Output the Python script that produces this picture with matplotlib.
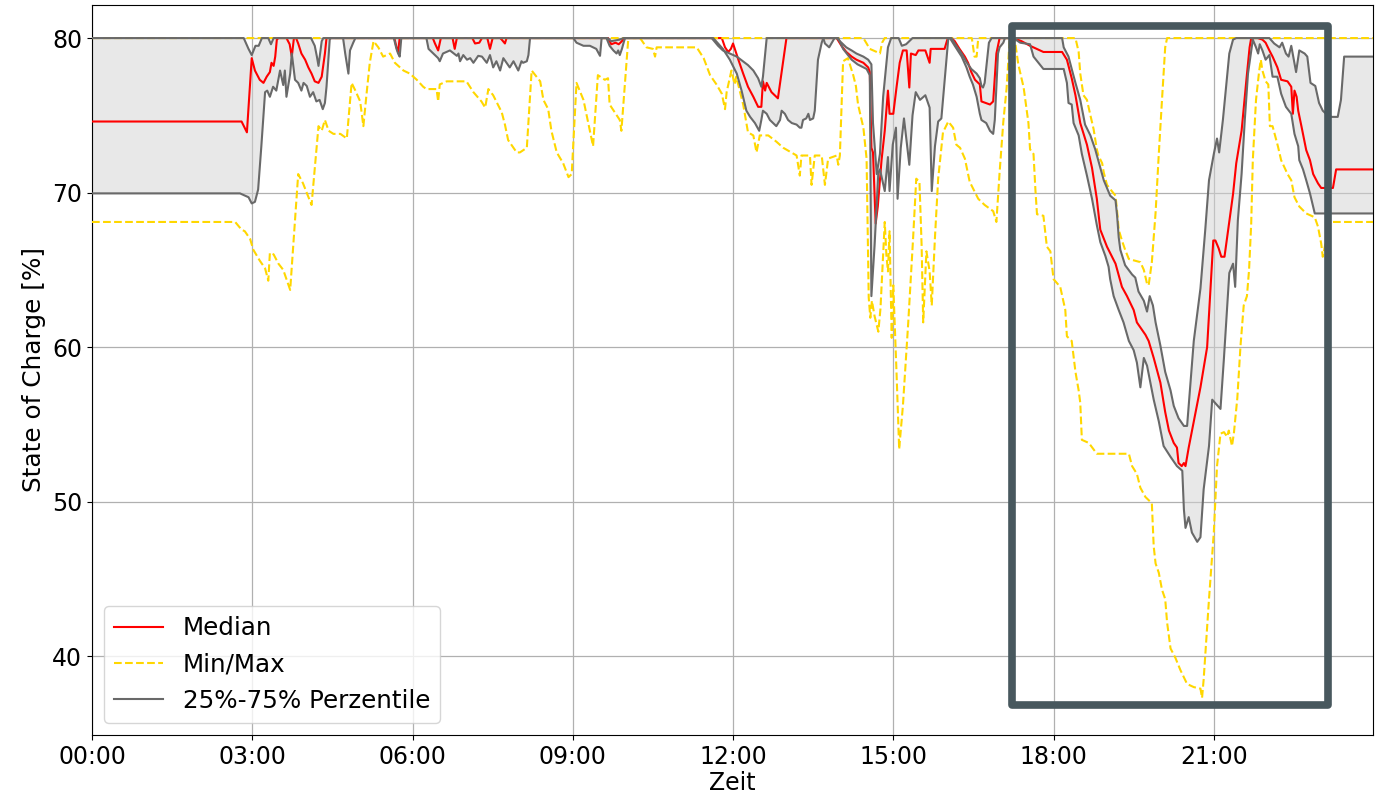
import matplotlib
matplotlib.use("Agg")
import matplotlib.pyplot as plt
from matplotlib.patches import Rectangle
from matplotlib.lines import Line2D
from matplotlib.ticker import FuncFormatter

# ---------------- data: (hour of day, SOC %) ----------------
median_pts = [
    (0.0, 74.6), (2.80, 74.6), (2.90, 73.9), (2.99, 78.7), (3.05, 77.9), (3.14, 77.3), (3.21, 77.1),
    (3.27, 77.5), (3.33, 77.8), (3.36, 78.4), (3.40, 78.2), (3.43, 78.8), (3.46, 79.9), (3.49, 80.0),
    (3.64, 80.0), (3.70, 79.6), (3.74, 78.8), (3.78, 80.0), (3.82, 80.0), (3.86, 79.65), (3.92, 79.0),
    (3.99, 78.6), (4.05, 78.1), (4.11, 77.7), (4.17, 77.2), (4.24, 77.1), (4.30, 77.5), (4.36, 79.0),
    (4.39, 80.0), (5.66, 80.0), (5.70, 79.4), (5.73, 79.1), (5.76, 80.0), (6.38, 80.0), (6.42, 79.65),
    (6.48, 79.2), (6.53, 80.0), (6.75, 80.0), (6.79, 79.3), (6.83, 80.0), (7.12, 80.0), (7.17, 79.65),
    (7.25, 79.7), (7.30, 80.0), (7.40, 80.0), (7.45, 79.3), (7.50, 80.0), (7.64, 80.0), (7.67, 79.9),
    (7.73, 79.65), (7.76, 80.0), (9.66, 80.0), (9.72, 79.6), (9.80, 79.7), (9.86, 79.6), (9.92, 79.8),
    (9.96, 80.0), (11.79, 80.0), (11.85, 79.4), (11.91, 79.1), (11.96, 79.3), (12.00, 79.65),
    (12.10, 78.6), (12.19, 77.7), (12.28, 76.85), (12.38, 76.2), (12.47, 75.55), (12.53, 75.55),
    (12.56, 77.2), (12.60, 76.6), (12.63, 77.1), (12.72, 76.5), (12.84, 76.1), (13.00, 80.0),
    (13.94, 80.0), (14.03, 79.5), (14.12, 79.1), (14.22, 78.8), (14.31, 78.6), (14.44, 78.4),
    (14.53, 78.1), (14.56, 77.8), (14.59, 72.9), (14.62, 72.6), (14.67, 68.0), (14.71, 69.1),
    (14.78, 72.1), (14.84, 74.0), (14.90, 76.6), (14.93, 75.1), (15.00, 75.1), (15.06, 76.8),
    (15.12, 78.4), (15.18, 79.2), (15.25, 79.2), (15.30, 76.8), (15.33, 79.0), (15.42, 78.9),
    (15.47, 79.2), (15.60, 79.2), (15.68, 78.4), (15.70, 79.3), (15.96, 79.3), (16.02, 80.0),
    (16.09, 80.0), (16.15, 79.8), (16.24, 79.3), (16.34, 78.8), (16.40, 78.4), (16.46, 77.8),
    (16.53, 77.3), (16.62, 77.0), (16.65, 75.9), (16.81, 75.7), (16.87, 75.9), (16.93, 79.0),
    (16.99, 80.0), (17.25, 80.0), (17.40, 79.8), (17.56, 79.5), (17.81, 79.1), (18.16, 79.1),
    (18.25, 78.6), (18.34, 77.4), (18.41, 76.3), (18.50, 74.5), (18.625, 73.1), (18.72, 71.6),
    (18.81, 69.6), (18.875, 67.6), (19.00, 66.5), (19.16, 65.4), (19.28, 63.9), (19.375, 63.3),
    (19.50, 62.4), (19.56, 61.6), (19.72, 60.8), (19.78, 60.4), (19.875, 59.3), (20.00, 57.7),
    (20.09, 55.8), (20.16, 54.6), (20.25, 53.8), (20.31, 53.5), (20.34, 52.5), (20.40, 52.3),
    (20.44, 52.5), (20.47, 52.3), (20.53, 53.5), (20.625, 55.2), (20.75, 57.4), (20.875, 60.0),
    (20.99, 66.9), (21.03, 66.9), (21.09, 66.4), (21.14, 65.85), (21.20, 65.85), (21.26, 67.35),
    (21.36, 69.9), (21.42, 71.9), (21.52, 74.0), (21.61, 77.3), (21.67, 79.4), (21.70, 80.0),
    (21.82, 80.0), (21.91, 79.9), (21.97, 79.7), (22.04, 79.2), (22.10, 78.8), (22.19, 78.1),
    (22.26, 77.3), (22.38, 77.2), (22.45, 76.85), (22.48, 75.1), (22.51, 76.6), (22.55, 76.2),
    (22.58, 75.3), (22.64, 74.3), (22.73, 72.75), (22.80, 72.1), (22.86, 71.2), (22.95, 70.6),
    (23.01, 70.3), (23.23, 70.3), (23.29, 71.5), (23.98, 71.5),
]

q75_pts = [
    (0.0, 80.0), (2.84, 80.0), (2.93, 79.3), (2.99, 78.9), (3.06, 79.5), (3.12, 79.5), (3.18, 80.0),
    (3.30, 80.0), (3.35, 79.6), (3.40, 80.0), (4.10, 80.0), (4.17, 79.5), (4.21, 78.8), (4.24, 78.2),
    (4.30, 79.8), (4.33, 80.0), (9.65, 80.0), (9.72, 79.8), (9.88, 79.9), (9.95, 80.0), (11.60, 80.0),
    (11.72, 79.5), (11.81, 79.2), (11.94, 79.0), (12.07, 78.8), (12.28, 78.25), (12.38, 77.9),
    (12.47, 77.4), (12.53, 76.85), (12.56, 77.5), (12.63, 80.0), (13.69, 80.0), (13.72, 79.65),
    (13.80, 79.4), (13.85, 79.7), (13.90, 80.0), (13.94, 80.0), (14.03, 79.7), (14.12, 79.4),
    (14.22, 79.2), (14.31, 79.0), (14.44, 78.8), (14.53, 78.6), (14.59, 78.3), (14.62, 74.5),
    (14.69, 71.2), (14.75, 72.5), (14.81, 76.2), (14.90, 79.4), (14.96, 80.0), (15.10, 80.0),
    (15.16, 79.5), (15.24, 79.6), (15.30, 79.8), (15.36, 80.0), (16.09, 80.0), (16.15, 79.65),
    (16.28, 79.0), (16.37, 78.45), (16.46, 78.0), (16.56, 77.7), (16.62, 77.4), (16.65, 76.9),
    (16.68, 76.8), (16.71, 77.1), (16.75, 78.4), (16.79, 79.7), (16.84, 80.0), (18.16, 80.0),
    (18.19, 79.4), (18.28, 78.8), (18.34, 78.0), (18.41, 77.1), (18.50, 76.0), (18.59, 74.4),
    (18.69, 73.7), (18.78, 72.8), (18.875, 71.6), (18.94, 70.8), (19.06, 69.8), (19.16, 69.5),
    (19.19, 68.5), (19.22, 67.1), (19.25, 66.3), (19.34, 65.3), (19.47, 64.7), (19.53, 64.5),
    (19.59, 63.6), (19.69, 63.0), (19.75, 62.3), (19.80, 63.3), (19.86, 62.7), (19.91, 61.6),
    (20.00, 60.1), (20.09, 58.4), (20.19, 57.2), (20.25, 56.2), (20.34, 55.4), (20.44, 54.9),
    (20.50, 54.9), (20.56, 57.5), (20.625, 60.4), (20.75, 63.8), (20.84, 67.6), (20.91, 70.8),
    (21.00, 72.5), (21.06, 73.5), (21.10, 72.6), (21.17, 74.7), (21.23, 76.85), (21.29, 79.0),
    (21.36, 79.9), (21.42, 80.0), (22.04, 80.0), (22.13, 79.65), (22.23, 79.4), (22.28, 79.7),
    (22.35, 79.0), (22.40, 78.8), (22.45, 79.5), (22.54, 77.8), (22.60, 79.2), (22.70, 79.0),
    (22.75, 78.8), (22.81, 77.1), (22.90, 76.9), (22.97, 75.8), (23.04, 75.3), (23.10, 75.1),
    (23.20, 74.9), (23.32, 74.9), (23.38, 76.0), (23.44, 78.8), (23.98, 78.8),
]

q25_pts = [
    (0.0, 69.95), (2.77, 69.95), (2.93, 69.7), (2.99, 69.3), (3.05, 69.4), (3.11, 70.2), (3.17, 73.0),
    (3.24, 76.5), (3.28, 76.6), (3.33, 76.2), (3.39, 76.85), (3.45, 76.6), (3.52, 77.9), (3.58, 76.96),
    (3.61, 77.9), (3.64, 76.2), (3.71, 77.7), (3.74, 79.0), (3.80, 77.3), (3.86, 77.1), (3.92, 76.6),
    (3.96, 77.1), (4.02, 76.9), (4.08, 76.2), (4.14, 76.5), (4.20, 75.9), (4.26, 76.0), (4.32, 75.4),
    (4.36, 75.8), (4.39, 76.85), (4.45, 79.9), (4.47, 80.0), (4.70, 80.0), (4.74, 79.0), (4.80, 77.7),
    (4.83, 79.2), (4.89, 79.7), (4.93, 80.0), (5.65, 80.0), (5.70, 79.3), (5.73, 79.0), (5.76, 78.8),
    (5.79, 80.0), (6.26, 80.0), (6.30, 79.3), (6.39, 79.0), (6.48, 78.7), (6.51, 78.5), (6.57, 79.0),
    (6.70, 79.2), (6.83, 78.85), (6.86, 79.0), (6.89, 78.5), (6.95, 78.9), (7.02, 78.6), (7.08, 78.7),
    (7.14, 78.4), (7.23, 78.85), (7.30, 78.8), (7.39, 78.4), (7.45, 78.9), (7.51, 78.1), (7.57, 78.5),
    (7.64, 77.9), (7.70, 78.7), (7.76, 78.4), (7.82, 78.1), (7.89, 78.5), (7.98, 77.9), (8.04, 78.5),
    (8.07, 78.4), (8.14, 78.5), (8.17, 78.9), (8.20, 80.0), (9.01, 80.0), (9.07, 79.7), (9.20, 79.5),
    (9.32, 79.5), (9.44, 79.3), (9.51, 78.85), (9.54, 80.0), (9.63, 80.0), (9.69, 79.5), (9.76, 79.2),
    (9.82, 79.0), (9.85, 79.2), (9.88, 78.9), (9.92, 79.3), (9.96, 79.8), (9.98, 80.0), (11.63, 80.0),
    (11.81, 79.3), (11.94, 78.6), (12.07, 77.7), (12.16, 76.6), (12.25, 75.3), (12.32, 74.9),
    (12.41, 74.5), (12.49, 74.0), (12.53, 74.7), (12.56, 75.3), (12.63, 75.1), (12.69, 74.7),
    (12.75, 74.5), (12.81, 74.3), (12.88, 74.7), (12.91, 75.3), (12.97, 75.1), (13.03, 74.7),
    (13.10, 74.5), (13.19, 74.4), (13.25, 74.2), (13.28, 74.2), (13.31, 74.7), (13.37, 74.8),
    (13.41, 75.1), (13.44, 74.7), (13.50, 74.8), (13.53, 75.3), (13.59, 78.6), (13.66, 79.7),
    (13.69, 80.0), (13.97, 80.0), (14.06, 79.3), (14.22, 78.6), (14.33, 78.3), (14.50, 78.0),
    (14.56, 77.6), (14.59, 63.3), (14.62, 65.0), (14.65, 66.6), (14.72, 71.3), (14.75, 71.5),
    (14.84, 70.1), (14.90, 72.3), (14.93, 70.1), (14.99, 73.1), (15.05, 74.2), (15.08, 69.6),
    (15.14, 72.9), (15.20, 74.8), (15.30, 71.8), (15.36, 75.0), (15.42, 76.5), (15.50, 76.0),
    (15.60, 76.3), (15.68, 75.5), (15.72, 70.1), (15.78, 73.0), (15.84, 74.6), (15.90, 74.8),
    (15.93, 76.0), (16.03, 80.0), (16.06, 80.0), (16.15, 79.5), (16.28, 78.8), (16.37, 78.1),
    (16.43, 77.5), (16.49, 77.0), (16.56, 76.2), (16.62, 75.1), (16.65, 74.7), (16.74, 74.5),
    (16.81, 74.0), (16.87, 73.8), (16.90, 74.7), (16.96, 79.0), (16.99, 79.4), (17.06, 79.7),
    (17.09, 80.0), (17.25, 80.0), (17.375, 79.7), (17.56, 79.6), (17.625, 78.8), (17.81, 78.0),
    (18.19, 78.0), (18.25, 77.1), (18.28, 75.8), (18.34, 75.7), (18.375, 74.5), (18.47, 73.7),
    (18.53, 72.5), (18.625, 71.1), (18.72, 69.6), (18.81, 67.9), (18.875, 66.8), (18.97, 65.9),
    (19.03, 65.2), (19.06, 64.4), (19.125, 63.3), (19.22, 62.4), (19.31, 61.6), (19.41, 60.4),
    (19.50, 59.8), (19.56, 59.0), (19.625, 57.4), (19.69, 59.3), (19.75, 58.8), (19.875, 56.6),
    (19.97, 55.2), (20.06, 53.6), (20.19, 52.9), (20.31, 52.3), (20.41, 52.0), (20.44, 49.5),
    (20.47, 48.3), (20.53, 49.0), (20.59, 48.0), (20.69, 47.4), (20.75, 47.7), (20.81, 50.8),
    (20.91, 53.6), (20.97, 56.6), (21.125, 56.0), (21.19, 59.3), (21.29, 64.8), (21.36, 65.4),
    (21.40, 63.9), (21.45, 68.2), (21.52, 71.2), (21.58, 74.7), (21.64, 77.7), (21.73, 79.9),
    (21.79, 79.4), (21.83, 79.0), (21.86, 79.6), (21.91, 79.2), (21.97, 78.6), (22.04, 78.9),
    (22.10, 77.5), (22.19, 77.5), (22.26, 76.4), (22.35, 75.55), (22.45, 75.1), (22.51, 73.8),
    (22.58, 73.0), (22.60, 72.1), (22.67, 71.5), (22.73, 70.8), (22.80, 69.95), (22.86, 69.1),
    (22.89, 68.65), (23.98, 68.65),
]

min_pts = [
    (0.0, 68.1), (2.68, 68.1), (2.80, 67.6), (2.86, 67.5), (2.96, 67.0), (3.02, 66.3), (3.14, 65.6),
    (3.24, 65.1), (3.30, 64.3), (3.33, 66.1), (3.40, 66.0), (3.49, 65.4), (3.58, 65.0), (3.71, 63.7),
    (3.80, 68.2), (3.86, 71.2), (3.95, 70.6), (4.11, 69.2), (4.24, 74.3), (4.30, 74.0), (4.36, 74.7),
    (4.43, 74.0), (4.52, 73.8), (4.65, 73.8), (4.77, 73.5), (4.86, 77.1), (4.93, 76.6), (5.02, 75.9),
    (5.08, 74.3), (5.14, 76.4), (5.20, 78.4), (5.27, 79.8), (5.36, 79.4), (5.45, 78.8), (5.58, 79.0),
    (5.67, 78.4), (5.83, 77.9), (5.95, 77.7), (6.08, 77.3), (6.20, 76.85), (6.26, 76.7), (6.45, 76.7),
    (6.48, 75.9), (6.51, 77.0), (6.64, 77.2), (7.01, 77.2), (7.14, 76.5), (7.29, 75.9), (7.36, 75.5),
    (7.42, 76.7), (7.51, 76.3), (7.67, 75.2), (7.73, 74.4), (7.79, 73.4), (7.95, 72.6), (8.01, 72.6),
    (8.14, 72.9), (8.23, 77.9), (8.39, 77.2), (8.45, 76.0), (8.54, 75.4), (8.60, 74.0), (8.70, 72.6),
    (8.82, 71.9), (8.92, 71.0), (8.98, 71.2), (9.07, 77.1), (9.20, 76.0), (9.29, 74.5), (9.38, 73.0),
    (9.47, 77.6), (9.60, 77.3), (9.66, 77.4), (9.69, 75.7), (9.88, 74.7), (9.91, 74.0), (10.04, 80.0),
    (10.26, 80.0), (10.38, 79.4), (10.50, 79.3), (10.54, 78.8), (10.57, 79.4), (11.32, 79.4),
    (11.45, 78.7), (11.57, 77.6), (11.69, 77.0), (11.79, 76.4), (11.85, 75.4), (11.88, 76.5),
    (11.97, 77.9), (12.03, 77.0), (12.06, 77.5), (12.19, 75.7), (12.28, 73.9), (12.38, 73.7),
    (12.44, 72.6), (12.50, 73.7), (12.66, 73.7), (12.81, 73.3), (12.94, 72.9), (13.19, 72.4),
    (13.25, 71.1), (13.28, 72.4), (13.44, 72.4), (13.47, 70.5), (13.53, 72.4), (13.66, 72.4),
    (13.72, 70.5), (13.78, 72.2), (13.94, 72.4), (13.97, 71.8), (14.00, 72.4), (14.06, 78.5),
    (14.15, 78.7), (14.25, 77.6), (14.30, 76.9), (14.34, 75.7), (14.44, 74.2), (14.50, 72.2),
    (14.54, 63.2), (14.57, 61.9), (14.60, 63.0), (14.65, 62.0), (14.72, 61.0), (14.76, 62.5),
    (14.81, 66.0), (14.84, 68.1), (14.87, 66.0), (14.90, 64.9), (14.93, 67.5), (14.97, 60.6),
    (15.00, 64.0), (15.06, 58.4), (15.11, 53.4), (15.18, 56.2), (15.28, 61.6), (15.37, 67.0),
    (15.43, 70.9), (15.49, 70.7), (15.53, 66.6), (15.56, 61.6), (15.62, 66.2), (15.68, 64.9),
    (15.72, 62.7), (15.78, 67.1), (15.84, 70.9), (15.93, 73.9), (16.03, 74.6), (16.12, 74.2),
    (16.18, 73.1), (16.25, 72.9), (16.34, 72.2), (16.43, 70.7), (16.59, 69.6), (16.71, 69.2),
    (16.87, 68.8), (16.93, 68.1), (16.99, 71.3), (17.06, 74.6), (17.12, 76.7), (17.18, 80.0),
    (17.27, 80.0), (17.34, 78.3), (17.44, 76.8), (17.53, 74.5), (17.56, 72.8), (17.625, 72.5),
    (17.66, 70.2), (17.69, 68.6), (17.81, 68.5), (17.875, 66.5), (17.94, 66.2), (18.00, 64.4),
    (18.125, 63.9), (18.22, 62.4), (18.25, 60.7), (18.34, 60.4), (18.41, 58.4), (18.47, 57.2),
    (18.50, 56.4), (18.53, 54.0), (18.66, 53.8), (18.81, 53.1), (19.06, 53.1), (19.41, 53.1),
    (19.47, 52.3), (19.56, 51.8), (19.625, 50.9), (19.72, 50.3), (19.84, 49.9), (19.875, 47.1),
    (19.91, 46.0), (19.97, 45.4), (20.03, 44.3), (20.09, 43.7), (20.125, 42.2), (20.19, 40.5),
    (20.28, 39.9), (20.375, 39.1), (20.50, 38.2), (20.625, 38.0), (20.75, 37.9), (20.78, 37.3),
    (20.81, 38.5), (20.91, 43.7), (21.00, 48.0), (21.06, 52.3), (21.125, 54.4), (21.19, 54.5),
    (21.25, 54.2), (21.28, 54.6), (21.34, 53.6), (21.375, 54.4), (21.44, 56.7), (21.50, 60.1),
    (21.56, 62.7), (21.62, 63.3), (21.66, 65.0), (21.70, 68.0), (21.73, 72.1), (21.79, 76.0),
    (21.85, 77.9), (21.88, 78.6), (21.91, 77.9), (21.97, 77.2), (22.02, 77.0), (22.05, 74.3),
    (22.10, 74.3), (22.20, 73.0), (22.26, 72.1), (22.38, 71.2), (22.45, 70.8), (22.51, 69.7),
    (22.60, 69.1), (22.73, 68.65), (22.89, 68.4), (22.95, 67.8), (23.01, 66.7), (23.04, 65.85),
    (23.17, 68.1), (23.98, 68.1),
]

max_pts = [
    (0.0, 80.0), (14.44, 80.0), (14.56, 79.3), (14.69, 79.1), (14.75, 79.0), (14.79, 79.7),
    (14.84, 80.0), (16.47, 80.0), (16.52, 78.8), (16.56, 78.8), (16.59, 80.0), (18.41, 80.0),
    (18.47, 79.1), (18.50, 77.7), (18.56, 76.3), (18.625, 76.0), (18.69, 75.0), (18.75, 74.1),
    (18.81, 72.8), (18.84, 72.4), (18.91, 71.9), (18.94, 71.3), (19.00, 70.5), (19.09, 70.1),
    (19.16, 69.8), (19.19, 68.8), (19.22, 67.6), (19.28, 66.9), (19.34, 66.3), (19.41, 65.7),
    (19.625, 65.5), (19.69, 65.0), (19.75, 64.1), (19.78, 64.0), (19.84, 65.5), (19.91, 68.7),
    (19.97, 72.5), (20.03, 76.0), (20.09, 79.4), (20.125, 80.0), (23.98, 80.0),
]

# highlight box (hours, SOC %)
box_t = (17.22, 23.13)
box_soc = (36.83, 80.78)

x_ticks = [0, 3, 6, 9, 12, 15, 18, 21]
y_ticks = [40, 50, 60, 70, 80]


def split(pts):
    return [p[0] for p in pts], [p[1] for p in pts]


t_med, v_med = split(median_pts)
t_q75, v_q75 = split(q75_pts)
t_q25, v_q25 = split(q25_pts)
t_min, v_min = split(min_pts)
t_max, v_max = split(max_pts)

FS = 17
fig = plt.figure(figsize=(13.76, 7.95), dpi=100)
ax = fig.add_axes([92 / 1376, 1 - 735 / 795, (1373 - 92) / 1376, (735 - 5) / 795])

# shaded inter-quartile band
ax.fill(t_q75 + t_q25[::-1], v_q75 + v_q25[::-1], color="lightgray", alpha=0.5,
        linewidth=0, zorder=1)

ax.plot(t_med, v_med, color="red", lw=1.5, zorder=3)
ax.plot(t_min, v_min, color="gold", lw=1.5, ls="--", zorder=4)
ax.plot(t_max, v_max, color="gold", lw=1.5, ls="--", zorder=4)
ax.plot(t_q25, v_q25, color="dimgray", lw=1.5, zorder=5)
ax.plot(t_q75, v_q75, color="dimgray", lw=1.5, zorder=5)

rect = Rectangle((box_t[0], box_soc[0]), box_t[1] - box_t[0], box_soc[1] - box_soc[0],
                 fill=False, edgecolor="#48585e", lw=5.5, joinstyle="round",
                 zorder=10, clip_on=False)
ax.add_patch(rect)

ax.set_xlim(0, 23.98)
ax.set_ylim(34.9, 82.14)
ax.set_xticks(x_ticks)
ax.xaxis.set_major_formatter(FuncFormatter(lambda x, p: f"{int(x):02d}:00"))
ax.set_yticks(y_ticks)
ax.grid(True, color="#b0b0b0", lw=0.9)
ax.set_axisbelow(True)
ax.tick_params(labelsize=FS)
ax.set_xlabel("Zeit", fontsize=FS, labelpad=2)
ax.set_ylabel("State of Charge [%]", fontsize=17.8)

handles = [
    Line2D([], [], color="red", lw=1.5),
    Line2D([], [], color="gold", lw=1.5, ls="--"),
    Line2D([], [], color="dimgray", lw=1.5),
]
ax.legend(handles, ["Median", "Min/Max", "25%-75% Perzentile"], loc="lower left",
          fontsize=17.7)

fig.savefig("out.png", dpi=100)
